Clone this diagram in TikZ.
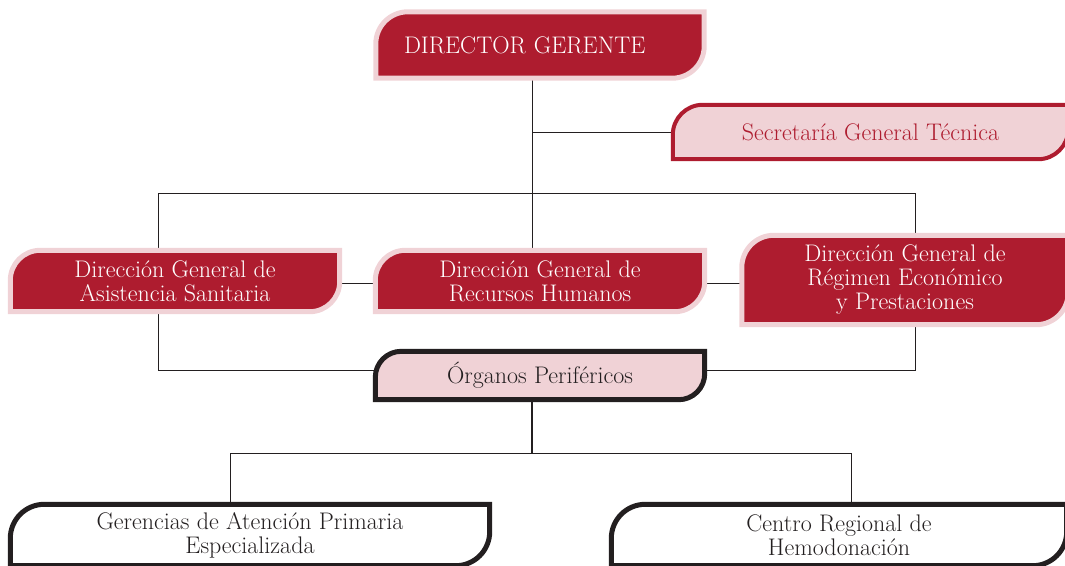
\documentclass[tikz,border=0pt]{standalone}
\usepackage{tikz}
\usetikzlibrary{backgrounds}

\definecolor{wine}{HTML}{AE1C2F}
\definecolor{blush}{HTML}{F0D2D6}
\definecolor{ink}{HTML}{231F20}

% tab shape: round top-left and bottom-right corners of node #1
\newcommand\tabpath[2]{(#1.south west) -- ([yshift=-#2pt]#1.north west)
  arc[start angle=180, end angle=90, radius=#2pt] -- (#1.north east)
  -- ([yshift=#2pt]#1.south east)
  arc[start angle=0, end angle=-90, radius=#2pt] -- cycle}

\begin{document}
\begin{tikzpicture}[
		x=1pt, y=-1pt,
		every node/.style={anchor=center, inner sep=0pt, align=center, font=\fontsize{24}{24}\selectfont},
		headbox/.style={draw=blush, fill=wine, line width=5pt},
		deskbox/.style={draw=wine, fill=blush, line width=4pt},
		hubbox/.style={draw=ink, fill=blush, line width=5pt},
		outbox/.style={draw=ink, fill=white, line width=5pt},
		link/.style={draw=ink, line width=1pt},
		trunk/.style={draw=ink, line width=1.6pt}
		]
		
		\useasboundingbox (0,0) rectangle (1065,565);
		
		\node[minimum width=328pt, minimum height=66pt, text width=272pt, align=left, text=white] (dg) at (540,45) {DIRECTOR GERENTE};
		\node[minimum width=395pt, minimum height=54pt, text=wine] (sgt) at (870.5,132) {Secretaría General Técnica};
		\node[minimum width=329pt, minimum height=61pt, text=white] (das) at (175,281) {Dirección General de\\Asistencia Sanitaria};
		\node[minimum width=329pt, minimum height=61pt, text=white] (rh) at (540,281) {Dirección General de\\Recursos Humanos};
		\node[minimum width=326pt, minimum height=89pt, text=white] (dre) at (905,280) {Dirección General de\\Régimen Económico\\y Prestaciones};
		\node[minimum width=329pt, minimum height=48pt, text=ink] (org) at (540,375.5) {Órganos Periféricos};
		\node[minimum width=479pt, minimum height=61pt, text=ink] (ger) at (250,535) {Gerencias de Atención Primaria\\Especializada};
		\node[minimum width=455pt, minimum height=61pt, text=ink] (cen) at (839,535) {Centro Regional de\\Hemodonación};
		
		\coordinate (top) at (532,193);
		\coordinate (left) at (158,193);
		\coordinate (right) at (915,193);
		\coordinate (fork) at (532,453);
		\coordinate (forkl) at (230,453);
		\coordinate (forkr) at (851,453);
		
		\begin{scope}[on background layer]
			% connectors
			\draw[link] (top |- dg.south) -- (top |- rh.north);
			\draw[link] (top |- sgt.west) -- (sgt.west);
			\draw[link] (left |- das.north) -- (left) -- (right) -- (right |- dre.north);
			\draw[link] ([yshift=-2pt]das.east) -- ([yshift=-2pt]rh.west);
			\draw[link] ([yshift=-2pt]rh.east) -- ([yshift=-2pt]rh.east -| dre.west);
			\draw[link] (left |- das.south) |- ([yshift=5pt]org.west);
			\draw[link] (right |- dre.south) |- ([yshift=5pt]org.east);
			\draw[trunk] (fork |- org.south) -- (fork);
			\draw[link] (forkl |- ger.north) -- (forkl) -- (forkr) -- (forkr |- cen.north);
			% boxes
			\draw[headbox] \tabpath{dg}{32};
			\draw[deskbox] \tabpath{sgt}{30};
			\draw[headbox] \tabpath{das}{30};
			\draw[headbox] \tabpath{rh}{30};
			\draw[headbox] \tabpath{dre}{32};
			\draw[hubbox] \tabpath{org}{26};
			\draw[outbox] \tabpath{ger}{34};
			\draw[outbox] \tabpath{cen}{34};
		\end{scope}
		
\end{tikzpicture}
\end{document}
